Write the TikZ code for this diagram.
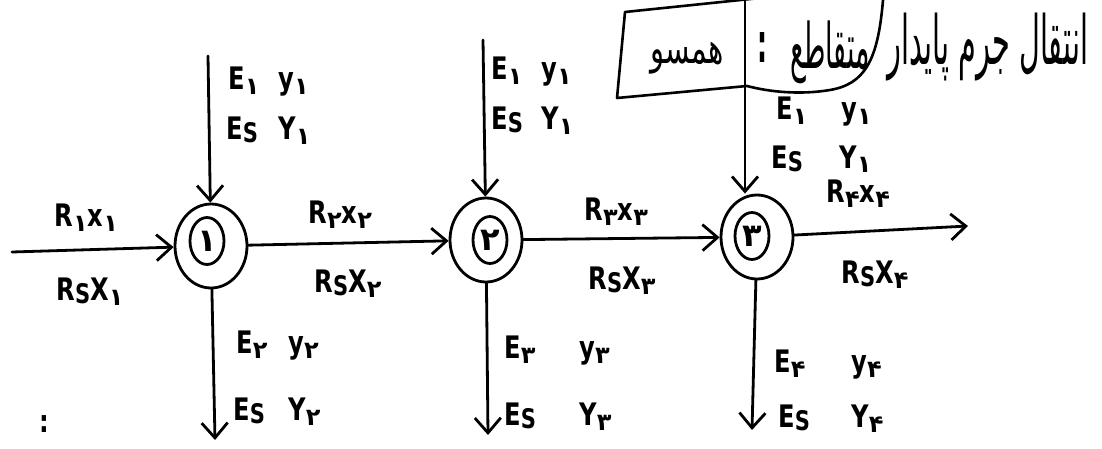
\documentclass[tikz,border=0pt]{standalone}
\usepackage{fontspec}
\usepackage{graphicx}
\usetikzlibrary{arrows.meta,shapes.geometric}
\setmainfont{DejaVu Sans}[FakeStretch=0.78]
\newfontfamily\fa[Script=Arabic]{DejaVu Sans}
\TeXXeTstate=1
\newcommand{\sbd}[1]{\raisebox{-5pt}{\fontsize{24}{24}\fa\bfseries #1}}
\newcommand{\sbs}{\raisebox{-3pt}{\fontsize{27}{27}\selectfont S}}
\newcommand{\pair}[3]{\makebox[#1][l]{#2}#3}
\begin{document}
\begin{tikzpicture}[x=1pt,y=-1pt,line width=2.8pt,line cap=round,line join=round,
  tip/.style={-{Straight Barb[length=15pt,width=26pt]}},
  outer/.style={draw,ellipse,minimum width=72pt,minimum height=84pt,inner sep=0pt},
  innerc/.style={draw,ellipse,minimum width=34pt,minimum height=47pt,inner sep=0pt,font=\fontsize{32}{32}\fa\bfseries},
  lbl/.style={anchor=base west,inner sep=0pt,font=\fontsize{31}{32}\selectfont\bfseries},
  ttl/.style={inner sep=0pt,anchor=center}]
\useasboundingbox (0,0) rectangle (1102,449);

% stages
\node[outer] (n1) at (211,246) {};
\node[innerc] (i1) at (207,241) {۱};
\node[outer] (n2) at (486,240) {};
\node[innerc] (i2) at (490,240) {۲};
\node[outer] (n3) at (757,237) {};
\node[innerc] (i3) at (752,236) {۳};

% free ends
\coordinate (in0) at (12,252);
\coordinate (out) at (968,226);
\coordinate (t1) at (208,56);
\coordinate (t2) at (483,40);
\coordinate (t3) at (745,0);
\coordinate (b1) at (215,440);
\coordinate (b2) at (488,435);
\coordinate (b3) at (752,430);

% connectors
\draw[tip] (in0) -- (n1);
\draw[tip] (n1) -- (n2);
\draw[tip] (n2) -- (n3);
\draw[tip] (n3) -- (out);
\draw[tip] (t1) -- (n1);
\draw[tip] (t2) -- (n2);
\draw[tip] (t3) -- (t3 |- n3.north);
\draw[tip] (n1) -- (b1);
\draw[tip] (n2) -- (b2);
\draw[tip] (n3) -- (b3);

% top feed labels
\node[lbl] (a1) at (227,90) {\pair{50pt}{E\sbd{۱}}{y\sbd{۱}}};
\node[lbl] (a2) at (225,140) {\pair{52pt}{E\sbs}{Y\sbd{۱}}};
\node[lbl] (c1) at (490,80) {\pair{50pt}{E\sbd{۱}}{y\sbd{۱}}};
\node[lbl] (c2) at (490,130) {\pair{50pt}{E\sbs}{Y\sbd{۱}}};
\node[lbl] (e1) at (775,120) {\pair{65pt}{E\sbd{۱}}{y\sbd{۱}}};
\node[lbl] (e2) at (770,168) {\pair{68pt}{E\sbs}{Y\sbd{۱}}};

% raffinate labels
\node[lbl] (r1) at (53,226) {R\sbd{۱}x\sbd{۱}};
\node[lbl] (s1) at (55,300) {R\sbs X\sbd{۱}};
\node[lbl] (r2) at (307,223) {R\sbd{۲}x\sbd{۲}};
\node[lbl] (s2) at (313,292) {R\sbs X\sbd{۲}};
\node[lbl] (r3) at (583,220) {R\sbd{۳}x\sbd{۳}};
\node[lbl] (s3) at (587,289) {R\sbs X\sbd{۳}};
\node[lbl] (r4) at (825,203) {R\sbd{۴}x\sbd{۴}};
\node[lbl] (s4) at (840,283) {R\sbs X\sbd{۴}};

% extract labels
\node[lbl] (d1) at (235,353) {\pair{52pt}{E\sbd{۲}}{y\sbd{۲}}};
\node[lbl] (d2) at (232,420) {\pair{55pt}{E\sbs}{Y\sbd{۲}}};
\node[lbl] (f1) at (503,358) {\pair{75pt}{E\sbd{۳}}{y\sbd{۳}}};
\node[lbl] (f2) at (503,425) {\pair{75pt}{E\sbs}{Y\sbd{۳}}};
\node[lbl] (g1) at (773,372) {\pair{77pt}{E\sbd{۴}}{y\sbd{۴}}};
\node[lbl] (g2) at (777,427) {\pair{73pt}{E\sbs}{Y\sbd{۴}}};

\node[lbl] (col) at (38,432) {:};

% title
\node[ttl] (tt1) at (988,47) {\resizebox*{200pt}{68pt}{\fa\beginR انتقال جرم پایدار\endR}};
\node[ttl] (tt2) at (830,52) {\resizebox*{80pt}{63pt}{\fa\beginR متقاطع\endR}};
\node[ttl] (tt3) at (762,48) {\resizebox*{10pt}{30pt}{\bfseries :}};
\node[ttl] (tt4) at (687,58) {\resizebox*{73pt}{32pt}{\fa\beginR همسو\endR}};
\draw[line width=2.6pt] (760,-2) -- (625,12) -- (617,98) -- (747,86)
  .. controls (770,92) and (800,95) .. (830,90)
  .. controls (865,84) and (878,60) .. (883,0);
\end{tikzpicture}
\end{document}
